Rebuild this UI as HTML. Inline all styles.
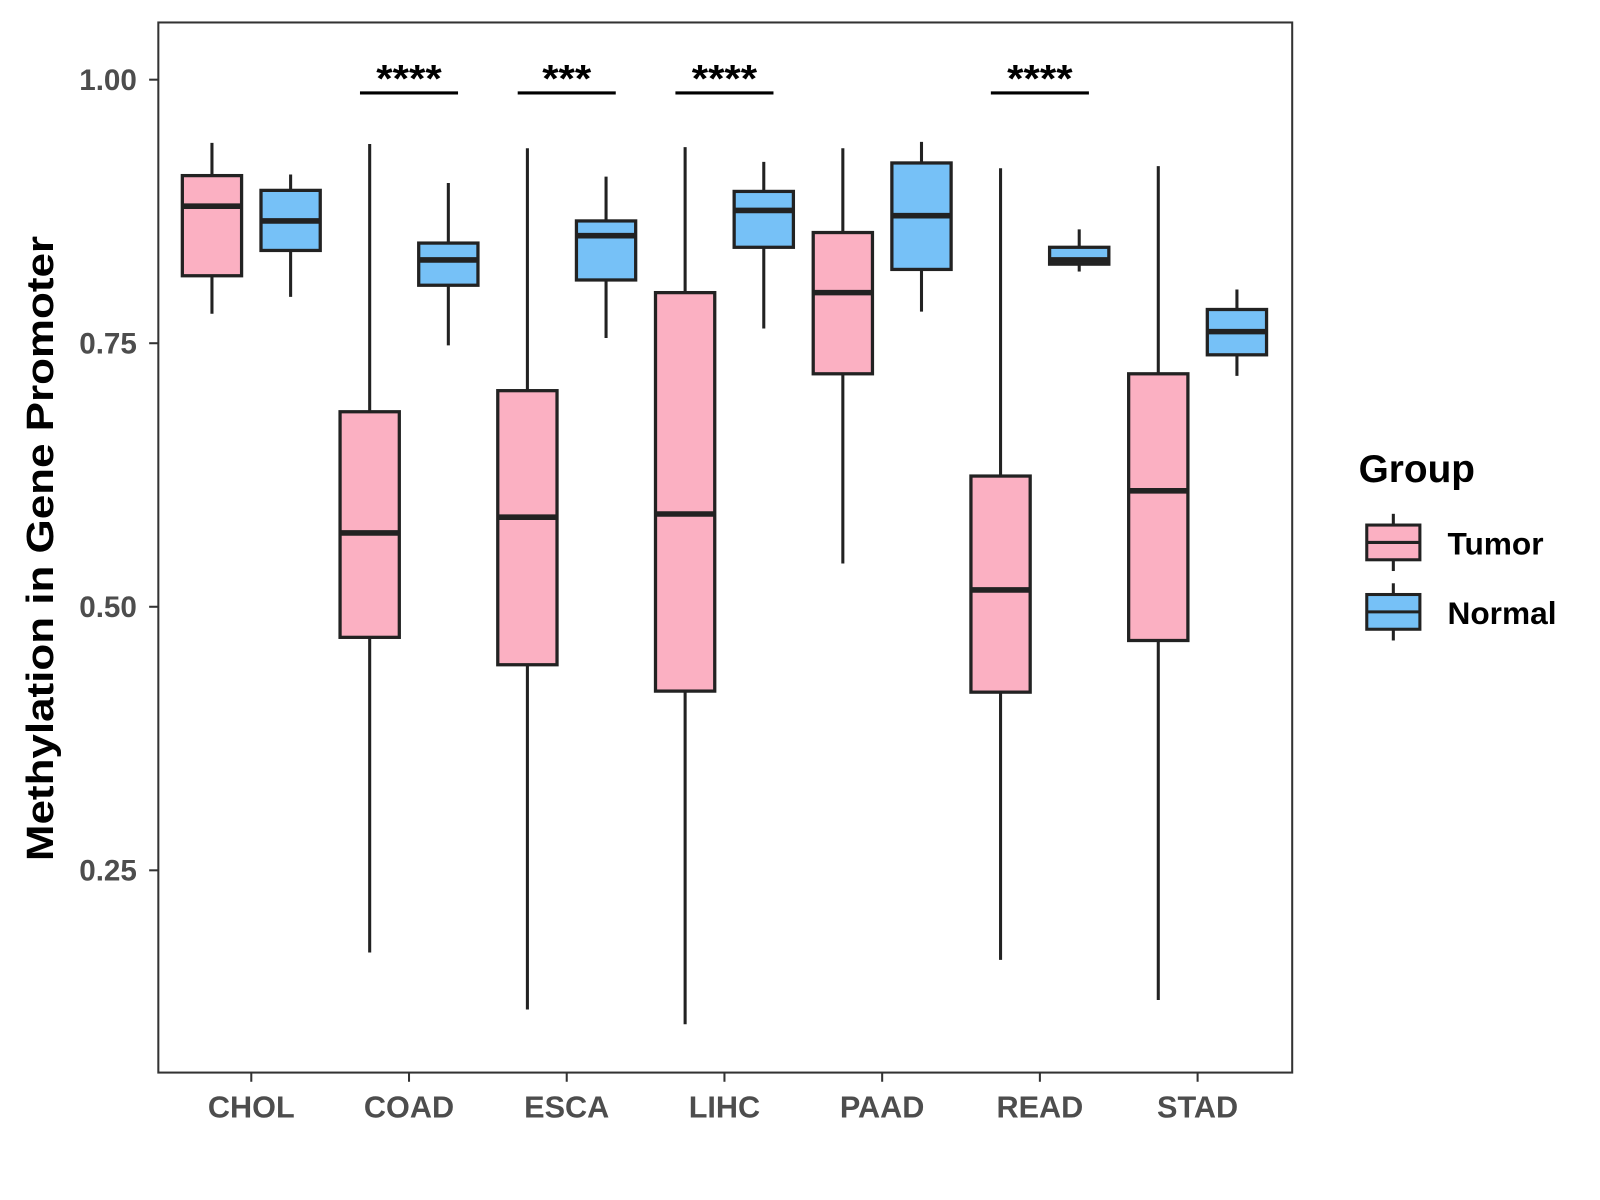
<!DOCTYPE html>
<html><head><meta charset="utf-8"><style>
body{margin:0;background:#fff}
svg{display:block;font-family:"Liberation Sans",Arial,sans-serif}
</style></head><body>
<svg id="chart" width="1600" height="1200" viewBox="0 0 1600 1200">
<g transform="scale(1.0215)">
<rect x="155" y="22" width="1110" height="1028" fill="#fff" stroke="#333" stroke-width="2"/>
<g id="marks"></g>
<text transform="translate(52,537) rotate(-90)" text-anchor="middle" font-size="37" font-weight="bold" fill="#000" textLength="612" lengthAdjust="spacingAndGlyphs">Methylation in Gene Promoter</text>
<g>
<text x="1330" y="472" font-size="38" font-weight="bold">Group</text>
<g>
<line x1="1364" y1="503" x2="1364" y2="559" stroke="#222" stroke-width="3"/>
<rect x="1338" y="514" width="52" height="34" fill="#FBB0C2" stroke="#222" stroke-width="3"/>
<line x1="1338" y1="531" x2="1390" y2="531" stroke="#222" stroke-width="3"/>
<text x="1417" y="543" font-size="31" font-weight="bold">Tumor</text></g>
<g>
<line x1="1364" y1="571" x2="1364" y2="627" stroke="#222" stroke-width="3"/>
<rect x="1338" y="582" width="52" height="34" fill="#76C1F7" stroke="#222" stroke-width="3"/>
<line x1="1338" y1="599" x2="1390" y2="599" stroke="#222" stroke-width="3"/>
<text x="1417" y="611" font-size="31" font-weight="bold">Normal</text></g>
</g>
</g>
</svg>
<script>
const categories=["CHOL","COAD","ESCA","LIHC","PAAD","READ","STAD"];
const tumorStats=[[0.778,0.814,0.880,0.909,0.940],[0.172,0.471,0.570,0.685,0.939],[0.118,0.445,0.585,0.705,0.935],[0.104,0.420,0.588,0.798,0.936],[0.541,0.721,0.798,0.855,0.935],[0.165,0.419,0.516,0.624,0.916],[0.127,0.468,0.610,0.721,0.918]];
const normalStats=[[0.794,0.838,0.866,0.895,0.910],[0.748,0.805,0.829,0.845,0.902],[0.755,0.810,0.852,0.866,0.908],[0.764,0.841,0.876,0.894,0.922],[0.780,0.820,0.871,0.921,0.941],[0.818,0.825,0.829,0.841,0.858],[0.719,0.739,0.761,0.782,0.801]];
const sigLabels=["","****","***","****","","****",""];
const yTicks=[0.25,0.50,0.75,1.00];
const yTickLabels=["0.25","0.50","0.75","1.00"];
const ns="http://www.w3.org/2000/svg";
const g=document.getElementById('marks');
const Y=v=>1110-v*1032;
const X=i=>246+i*154.4;
function mk(t,a,p){const e=document.createElementNS(ns,t);for(const k in a)e.setAttribute(k,a[k]);(p||g).appendChild(e);return e;}
yTicks.forEach((v,i)=>{
 const t=mk('line',{x1:146,x2:155,y1:Y(v),y2:Y(v),stroke:'#333','stroke-width':2});
 
 
 const l=mk('text',{x:134,y:Y(v)+10,'text-anchor':'end','font-size':29,'font-weight':'bold',fill:'#4d4d4d'});
 l.textContent=yTickLabels[i];
 
 
});
function box(cx,s,fill,name){
 const grp=mk('g',{});
 
 
 mk('line',{x1:cx,x2:cx,y1:Y(s[0]),y2:Y(s[4]),stroke:'#222','stroke-width':3},grp);
 mk('rect',{x:cx-29,y:Y(s[3]),width:58,height:Y(s[1])-Y(s[3]),fill:fill,stroke:'#222','stroke-width':3.2},grp);
 mk('line',{x1:cx-29,x2:cx+29,y1:Y(s[2]),y2:Y(s[2]),stroke:'#222','stroke-width':5.5},grp);
}
categories.forEach((c,i)=>{
 const cx=X(i);
 box(cx-38.5,tumorStats[i],'#FBB0C2','box-tumor-'+c.toLowerCase());
 box(cx+38.5,normalStats[i],'#76C1F7','box-normal-'+c.toLowerCase());
 const t=mk('line',{x1:cx,x2:cx,y1:1050,y2:1059,stroke:'#333','stroke-width':2});
 
 
 const l=mk('text',{x:cx,y:1094,'text-anchor':'middle','font-size':30,'font-weight':'bold',fill:'#4d4d4d'});
 l.textContent=c;
 
 
 if(sigLabels[i]){
  const sl=mk('line',{x1:cx-48,x2:cx+48,y1:91,y2:91,stroke:'#000','stroke-width':3});
  
  
  const st=mk('text',{x:cx,y:90,'text-anchor':'middle','font-size':38,'font-weight':'bold',fill:'#000',textLength:16*sigLabels[i].length,lengthAdjust:'spacingAndGlyphs'});
  st.textContent=sigLabels[i];
  
  
 }
});
</script>
</body></html>
